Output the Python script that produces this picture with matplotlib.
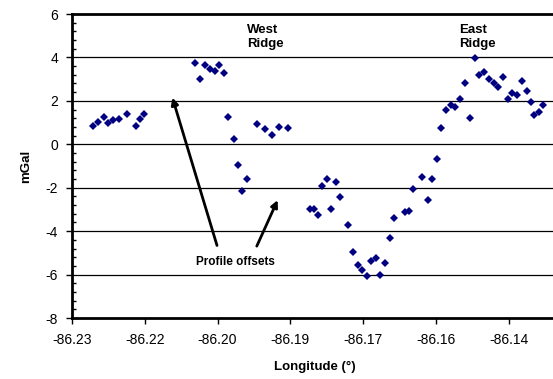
import numpy as np
import matplotlib.pyplot as plt
from matplotlib.ticker import MultipleLocator

plt.rcParams['font.family'] = ['Liberation Sans', 'DejaVu Sans']

## gravity profile (longitude, mGal)
lon = [-86.2257, -86.2246, -86.2235, -86.2226, -86.2216, -86.2204, -86.2187, -86.2169,
       -86.2160, -86.2151,
       -86.2046, -86.2036, -86.2026, -86.2015, -86.2006, -86.1996, -86.1986, -86.1978,
       -86.1967, -86.1958, -86.1949, -86.1940, -86.1918, -86.1902, -86.1888, -86.1874,
       -86.1855,
       -86.1810, -86.1802, -86.1792, -86.1784, -86.1774, -86.1766, -86.1755, -86.1748,
       -86.1730, -86.1720, -86.1710, -86.1702, -86.1692, -86.1683, -86.1673, -86.1665,
       -86.1654, -86.1645, -86.1636, -86.1614, -86.1605, -86.1596, -86.1578, -86.1567,
       -86.1557, -86.1547, -86.1539, -86.1528, -86.1519, -86.1510, -86.1499, -86.1489,
       -86.1479, -86.1470, -86.1460, -86.1450, -86.1440, -86.1429, -86.1422, -86.1411,
       -86.1402, -86.1392, -86.1382, -86.1372, -86.1362, -86.1353, -86.1347, -86.1338,
       -86.1329]
mgal = [0.86, 1.01, 1.26, 0.97, 1.10, 1.15, 1.41, 0.84, 1.15, 1.39,
        3.76, 2.99, 3.65, 3.48, 3.39, 3.65, 3.27, 1.27, 0.23, -0.96, -2.15, -1.60,
        0.93, 0.72, 0.41, 0.81, 0.76,
        -2.97, -2.97, -3.24, -1.92, -1.59, -2.98, -1.74, -2.44, -3.71, -4.98, -5.55,
        -5.81, -6.08, -5.36, -5.23, -6.01, -5.47, -4.33, -3.40, -3.11, -3.07, -2.05,
        -1.52, -2.57, -1.61, -0.68, 0.74, 1.58, 1.79, 1.72, 2.08, 2.81, 1.22, 3.99,
        3.20, 3.34, 2.99, 2.84, 2.64, 3.08, 2.10, 2.35, 2.28, 2.93, 2.45, 1.95, 1.35,
        1.47, 1.79]

xtick_labels = ['-86.23', '-86.22', '-86.20', '-86.19', '-86.17', '-86.16', '-86.14']
yticks = [-8, -6, -4, -2, 0, 2, 4, 6]

fig = plt.figure(figsize=(5.53, 3.79), dpi=100)
# right edge of the plot area runs past the picture, like the original
ax = fig.add_axes([72 / 553, 61 / 379, 485 / 553, 304 / 379])

xticks = -86.23 + 0.015 * np.arange(len(xtick_labels))
ax.set_xlim(-86.23, -86.13)
ax.set_ylim(-8, 6)
ax.set_xticks(xticks)
ax.set_xticklabels(xtick_labels)
ax.set_yticks(yticks)
ax.set_yticklabels([str(v) for v in yticks])
ax.yaxis.set_minor_locator(MultipleLocator(0.4))

ax.tick_params(axis='both', which='major', direction='out', length=4, width=1,
               labelsize=10)
ax.tick_params(axis='x', which='major', pad=7)
ax.tick_params(axis='y', which='major', pad=6)
ax.tick_params(axis='y', which='minor', direction='in', length=3, width=1)
ax.tick_params(axis='x', which='minor', length=0)

for side in ['left', 'bottom', 'top']:
    ax.spines[side].set_linewidth(2)
ax.spines['right'].set_visible(False)

# horizontal grid
for v in yticks[1:-1]:
    ax.axhline(v, color='black', lw=0.9, zorder=1)

ax.plot(lon, mgal, linestyle='none', marker='D', ms=3.6, color='#000080',
        markeredgewidth=0, zorder=3)

ax.set_xlabel('Longitude (°)', fontsize=9.5, fontweight='bold', labelpad=10)
ax.set_ylabel('mGal', fontsize=9.5, fontweight='bold', labelpad=10)

ax.text(-86.1939, 4.95, 'West\nRidge', fontsize=9.5, fontweight='bold',
        ha='left', va='center', linespacing=1.2)
ax.text(-86.1502, 4.95, 'East\nRidge', fontsize=9.5, fontweight='bold',
        ha='left', va='center', linespacing=1.2)
ax.text(-86.1962, -5.42, 'Profile offsets', fontsize=8.5, fontweight='bold',
        ha='center', va='center')

arrow = dict(arrowstyle='-|>', color='black', lw=2, mutation_scale=10,
             shrinkA=0, shrinkB=0)
ax.annotate('', xy=(-86.2093, 2.15), xytext=(-86.2001, -4.66), arrowprops=arrow)
ax.annotate('', xy=(-86.1876, -2.57), xytext=(-86.1919, -4.69), arrowprops=arrow)

fig.savefig('out.png', dpi=100)
